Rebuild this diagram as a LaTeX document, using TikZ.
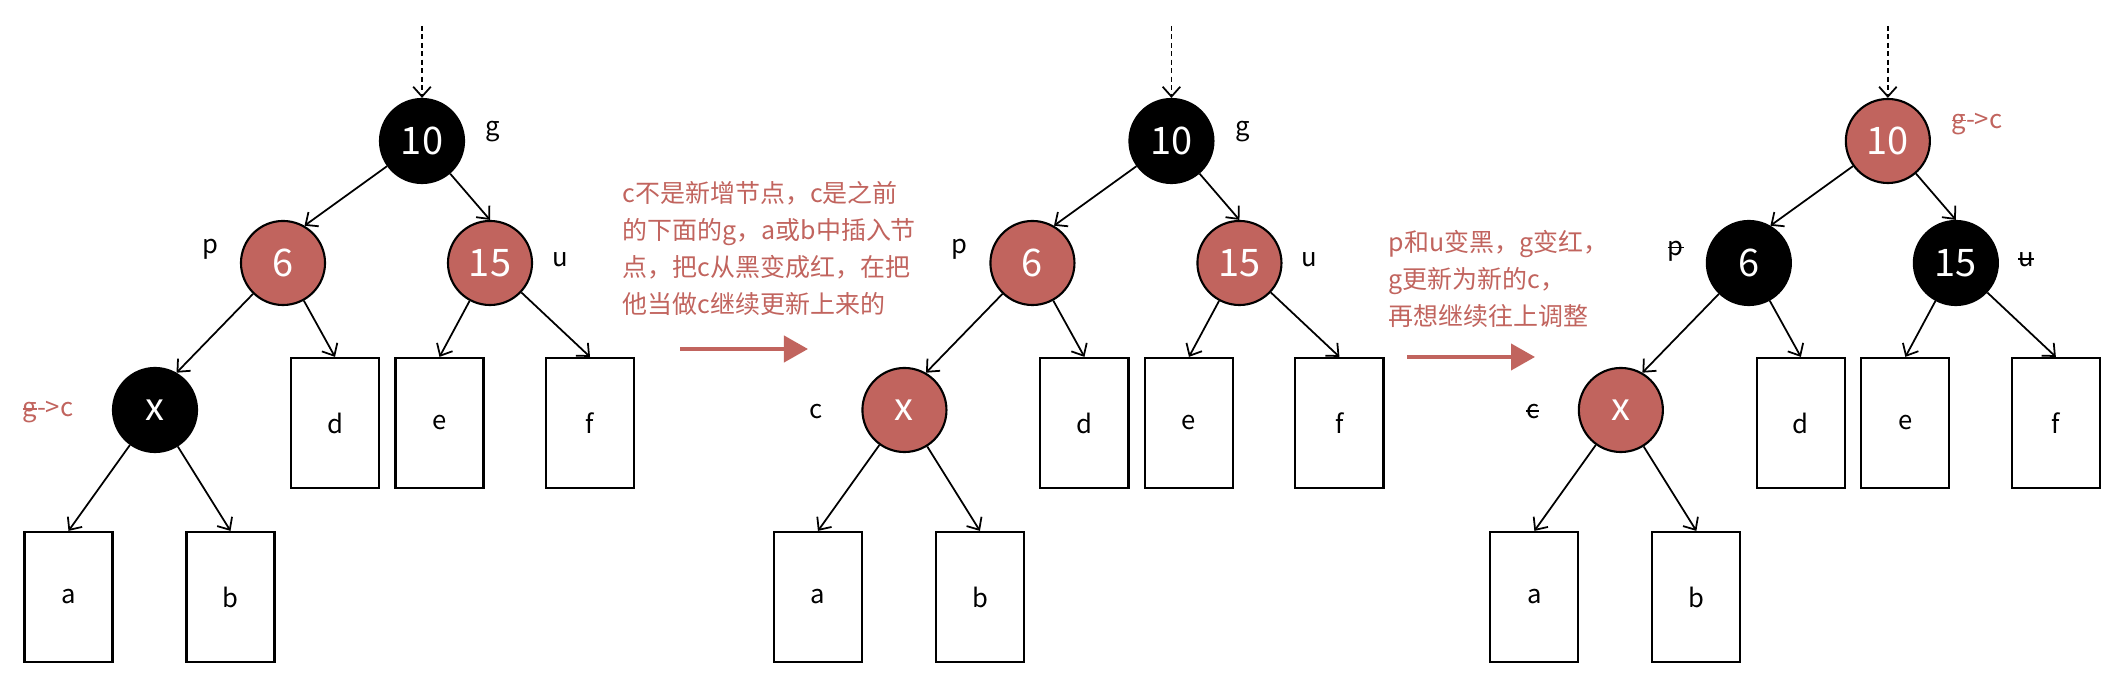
\documentclass[tikz,border=0pt]{standalone}
\usepackage{fontspec}
\setmainfont{Noto Sans CJK SC}
\usetikzlibrary{arrows.meta}
\definecolor{rbred}{RGB}{193,100,94}
\newcommand{\strk}[1]{\setbox0\hbox{#1}\rlap{\rule[0.27em]{\wd0}{0.45pt}}\box0}

\begin{document}
\begin{tikzpicture}[x=0.01cm, y=-0.01cm]
    \tikzstyle{blacknode} = [circle, draw, line width=0.6pt, fill=black, text=white, minimum size=0.84cm, inner sep=0pt, font=\fontsize{10.8}{12}\selectfont]
    \tikzstyle{rednode} = [blacknode, fill=rbred]
    \tikzstyle{leaf} = [draw, rectangle, line width=0.6pt, minimum width=0.88cm, minimum height=1.3cm, font=\fontsize{7.3}{9}\selectfont]
    \tikzstyle{tag} = [inner sep=0pt, font=\fontsize{7.3}{9}\selectfont]
    \tikzstyle{note} = [text=rbred, align=left, anchor=north west, inner sep=0pt, font=\fontsize{7.1}{10.5}\selectfont]
    \tikzstyle{link} = [-{Straight Barb[length=2.8pt, width=5pt]}, line width=0.5pt]
    \tikzstyle{bigarrow} = [-{Triangle[length=0.24cm, width=0.26cm]}, line width=0.04cm, draw=rbred]
    \useasboundingbox (0,0) rectangle (2128,680);

    % before: c black, p and u red
    \coordinate (top1) at (422,26);
    \node[blacknode] (g1) at (422,141) {10};
    \node[rednode] (p1) at (283,263) {6};
    \node[rednode] (u1) at (490,263) {15};
    \node[blacknode] (c1) at (155,410) {x};
    \node[leaf] (d1) at (335,423) {d};
    \node[leaf] (e1) at (439.5,423) {e};
    \node[leaf] (f1) at (590,423) {f};
    \node[leaf] (a1) at (68.5,597) {a};
    \node[leaf] (b1) at (230.5,597) {b};
    \node[tag, anchor=west] (lg1) at (485,132) {g};
    \node[tag] (lp1) at (210,249) {p};
    \node[tag] (lu1) at (560,260) {u};
    \node[tag, anchor=east, text=rbred] (lc1) at (74,412) {\strk{g}->c};
    \draw[link, dash pattern=on 1.4pt off 1pt] (top1) -- (g1);
    \draw[link] (g1) -- (p1.60);
    \draw[link] (g1) -- (u1.north);
    \draw[link] (p1) -- (c1.60);
    \draw[link] (p1) -- (d1.north);
    \draw[link] (u1) -- (e1.north);
    \draw[link] (u1) -- (f1.north);
    \draw[link] (c1) -- (a1.north);
    \draw[link] (c1) -- (b1.north);

    \node[note] (txt1) at (622,181) {c不是新增节点，c是之前\\的下面的g，a或b中插入节\\点，把c从黑变成红，在把\\他当做c继续更新上来的};
    \coordinate (s1) at (680,349);
    \coordinate (t1) at (808,349);
    \draw[bigarrow] (s1) -- (t1);

    % c turned red
    \begin{scope}[xshift=7.49cm]
    \coordinate (top2) at (422,26);
    \node[blacknode] (g2) at (422,141) {10};
    \node[rednode] (p2) at (283,263) {6};
    \node[rednode] (u2) at (490,263) {15};
    \node[rednode] (c2) at (155,410) {x};
    \node[leaf] (d2) at (335,423) {d};
    \node[leaf] (e2) at (439.5,423) {e};
    \node[leaf] (f2) at (590,423) {f};
    \node[leaf] (a2) at (68.5,597) {a};
    \node[leaf] (b2) at (230.5,597) {b};
    \node[tag, anchor=west] (lg2) at (485,132) {g};
    \node[tag] (lp2) at (210,249) {p};
    \node[tag] (lu2) at (560,260) {u};
    \node[tag, anchor=east] (lc2) at (74,412) {c};
    \draw[link, dash pattern=on 1.4pt off 1pt] (top2) -- (g2);
    \draw[link] (g2) -- (p2.60);
    \draw[link] (g2) -- (u2.north);
    \draw[link] (p2) -- (c2.60);
    \draw[link] (p2) -- (d2.north);
    \draw[link] (u2) -- (e2.north);
    \draw[link] (u2) -- (f2.north);
    \draw[link] (c2) -- (a2.north);
    \draw[link] (c2) -- (b2.north);
    \end{scope}

    \node[note] (txt2) at (1388,230) {p和u变黑，g变红，\\g更新为新的c，\\再想继续往上调整};
    \coordinate (s2) at (1407,357);
    \coordinate (t2) at (1535,357);
    \draw[bigarrow] (s2) -- (t2);

    % recolored: g red, p and u black
    \begin{scope}[xshift=14.65cm]
    \coordinate (top3) at (422,26);
    \node[rednode] (g3) at (422,141) {10};
    \node[blacknode] (p3) at (283,263) {6};
    \node[blacknode] (u3) at (490,263) {15};
    \node[rednode] (c3) at (155,410) {x};
    \node[leaf] (d3) at (335,423) {d};
    \node[leaf] (e3) at (439.5,423) {e};
    \node[leaf] (f3) at (590,423) {f};
    \node[leaf] (a3) at (68.5,597) {a};
    \node[leaf] (b3) at (230.5,597) {b};
    \node[tag, anchor=west, text=rbred] (lg3) at (485,124) {\strk{g}->c};
    \node[tag] (lp3) at (210,251) {\strk{p}};
    \node[tag] (lu3) at (560,260) {\strk{u}};
    \node[tag, anchor=east] (lc3) at (74,412) {\strk{c}};
    \draw[link, dash pattern=on 1.4pt off 1pt] (top3) -- (g3);
    \draw[link] (g3) -- (p3.60);
    \draw[link] (g3) -- (u3.north);
    \draw[link] (p3) -- (c3.60);
    \draw[link] (p3) -- (d3.north);
    \draw[link] (u3) -- (e3.north);
    \draw[link] (u3) -- (f3.north);
    \draw[link] (c3) -- (a3.north);
    \draw[link] (c3) -- (b3.north);
    \end{scope}
\end{tikzpicture}
\end{document}
